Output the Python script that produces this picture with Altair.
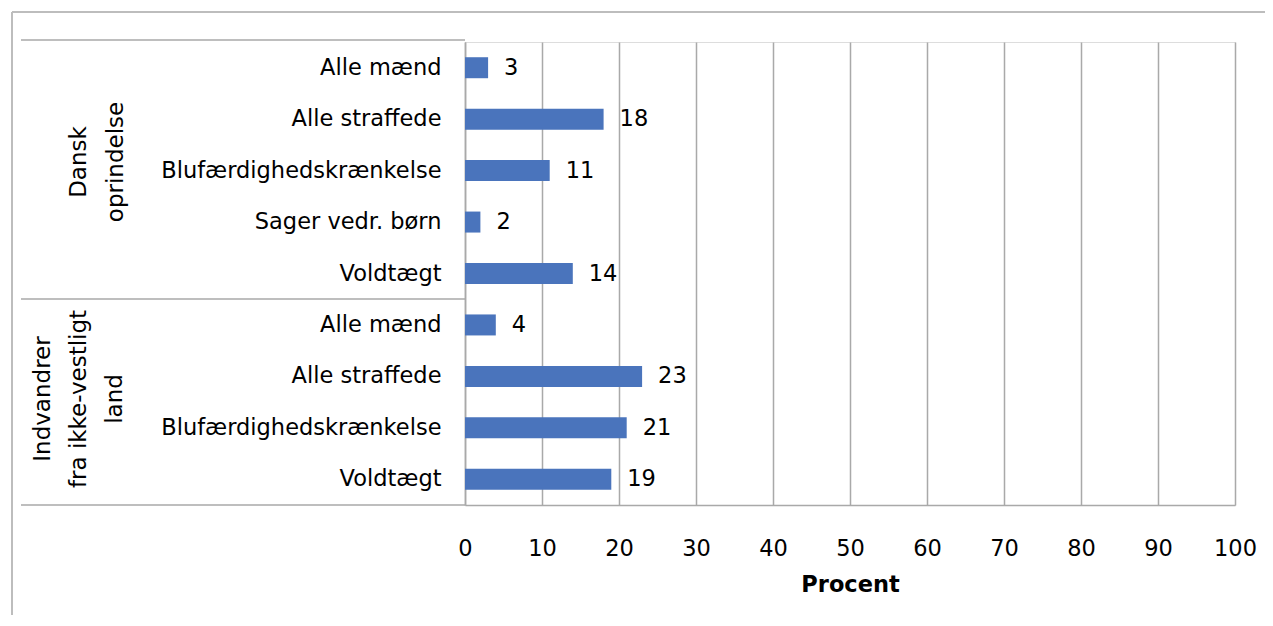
import altair as alt
import pandas as pd

# ---- data ----
groups = ["Dansk oprindelse"] * 5 + ["Indvandrer fra ikke-vestligt land"] * 4
categories = [
    "Alle mænd", "Alle straffede", "Blufærdighedskrænkelse", "Sager vedr. børn", "Voldtægt",
    "Alle mænd", "Alle straffede", "Blufærdighedskrænkelse", "Voldtægt",
]
values = [3, 18, 11, 2, 14, 4, 23, 21, 19]
x_ticks = [0, 10, 20, 30, 40, 50, 60, 70, 80, 90, 100]
group1_label = "Dansk\noprindelse"
group2_label = "Indvandrer\nfra ikke-vestligt\nland"
x_title = "Procent"

keys = [f"{g}|{c}" for g, c in zip(groups, categories)]
df = pd.DataFrame({"key": keys, "group": groups, "category": categories, "value": values})

FONT = "DejaVu Sans"
FS = 22.5
W, H = 770, 463
GRID = "#A9A9A9"

y_enc = alt.Y(
    "key:N",
    sort=keys,
    scale=alt.Scale(paddingInner=0, paddingOuter=0),
    axis=alt.Axis(
        title=None,
        labelExpr="split(datum.label, '|')[1]",
        labelFont=FONT,
        labelFontSize=FS,
        labelColor="#000000",
        labelPadding=24,
        ticks=False,
        domain=True,
        domainColor=GRID,
        domainWidth=1.5,
        grid=False,
        labelLimit=400,
    ),
)
x_enc = alt.X(
    "value:Q",
    scale=alt.Scale(domain=[0, 100], nice=False),
    axis=alt.Axis(
        values=x_ticks,
        title=x_title,
        titleFont=FONT,
        titleFontSize=FS,
        titleFontWeight="bold",
        titleColor="#000000",
        titlePadding=14,
        labelFont=FONT,
        labelFontSize=FS,
        labelColor="#000000",
        labelPadding=32,
        labelFlush=False,
        ticks=False,
        domain=True,
        domainColor=GRID,
        domainWidth=1.5,
        grid=True,
        gridColor=GRID,
        gridWidth=1.5,
    ),
)

base = alt.Chart(df)
bars = base.mark_bar(size=21, color="#4A74BC").encode(x=x_enc, y=y_enc)
labels = base.mark_text(
    align="left", baseline="middle", dx=16, font=FONT, fontSize=FS, color="#000000"
).encode(x="value:Q", y=alt.Y("key:N", sort=keys), text="value:Q")

lbl_df1 = pd.DataFrame({"t": [group1_label]})
lbl_df2 = pd.DataFrame({"t": [group2_label]})
g1 = alt.Chart(lbl_df1).mark_text(
    angle=270, align="center", baseline="middle", lineBreak="\n", lineHeight=37,
    font=FONT, fontSize=23, color="#000000",
).encode(text="t:N", x=alt.value(-386), y=alt.value(120))
g2 = alt.Chart(lbl_df2).mark_text(
    angle=270, align="center", baseline="middle", lineBreak="\n", lineHeight=36,
    font=FONT, fontSize=23, color="#000000",
).encode(text="t:N", x=alt.value(-422), y=alt.value(357))

# decorative frame lines
line_df = pd.DataFrame({"d": [0]})
def hline(x1, x2, y, color="#A9A9A9", w=1.5):
    return alt.Chart(line_df).mark_rule(color=color, strokeWidth=w).encode(
        x=alt.value(x1), x2=alt.value(x2), y=alt.value(y)
    )
def vline(x, y1, y2, color="#A9A9A9", w=1.5):
    return alt.Chart(line_df).mark_rule(color=color, strokeWidth=w).encode(
        x=alt.value(x), y=alt.value(y1), y2=alt.value(y2)
    )

frame = [
    hline(-444, 0, -2),
    hline(-444, 0, 257),
    hline(-444, 0, H),
    vline(-453, -30, 600, color="#BDBDBD", w=2),
    hline(-453, 810, -30, color="#BDBDBD", w=2),
]

chart = alt.layer(*frame, bars, labels, g1, g2).properties(
    width=W,
    height=H,
    autosize=alt.AutoSizeParams(type="none"),
    padding={"left": 457, "top": 34, "right": 30, "bottom": 110},
).configure_view(stroke=None).configure(background="#FFFFFF")

chart.save("out.html", embed_options={"renderer": "svg", "actions": False})
